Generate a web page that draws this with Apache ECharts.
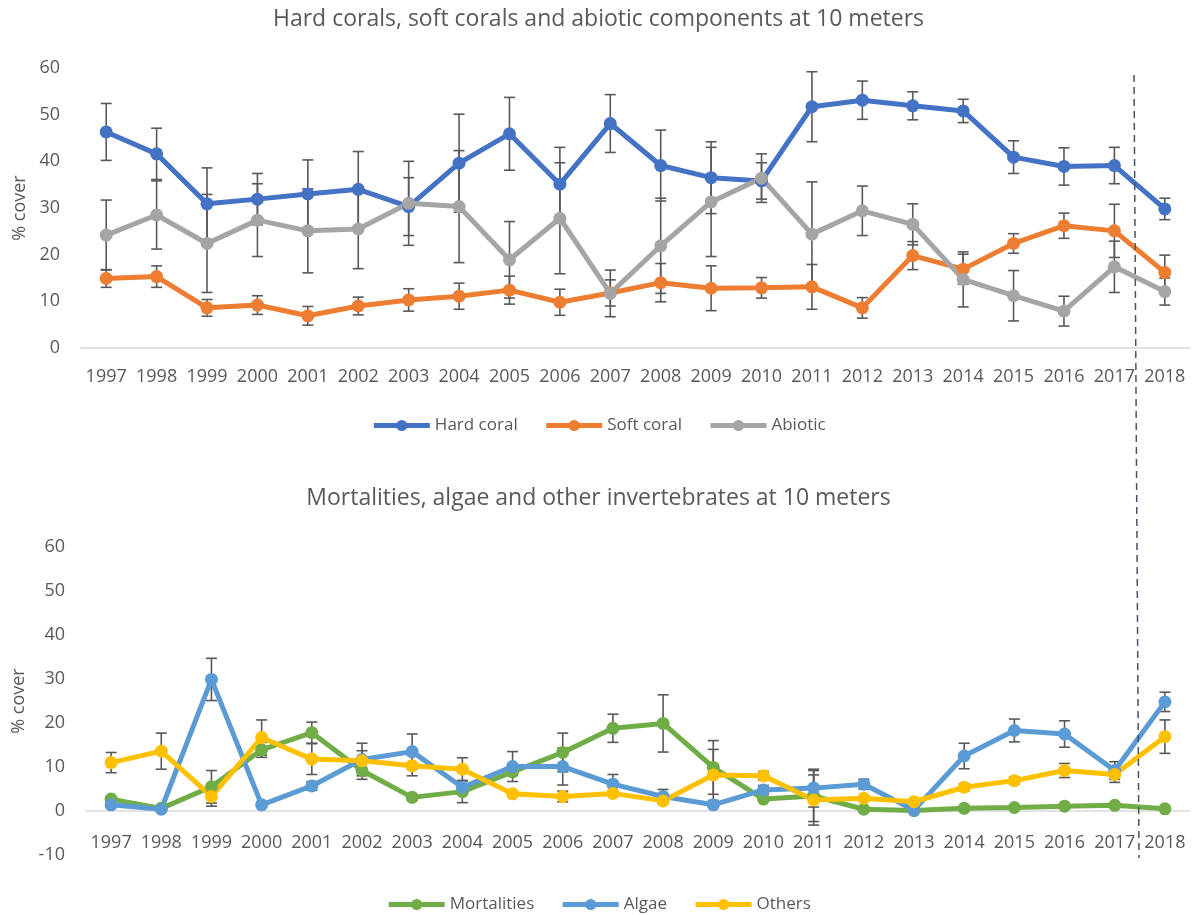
<!DOCTYPE html>
<html>
<head>
<meta charset="utf-8">
<script src="https://cdn.jsdelivr.net/npm/echarts@6/dist/echarts.min.js"></script>
<style>
  html, body { margin: 0; padding: 0; background: #fff; }
  #chart { width: 1197px; height: 915px; }
</style>
</head>
<body>
<div id="chart"></div>
<script>
// Survey years
const years = ['1997','1998','1999','2000','2001','2002','2003','2004','2005','2006','2007',
               '2008','2009','2010','2011','2012','2013','2014','2015','2016','2017','2018'];

// Upper panel: mean % cover and error (+/-)
const hardCoral    = [46.3, 41.6, 30.9, 31.9, 33.0, 34.0, 30.3, 39.6, 45.9, 35.1, 48.1, 39.1, 36.5, 35.8, 51.7, 53.1, 51.9, 50.8, 40.9, 38.9, 39.1, 29.8];
const hardCoralErr = [6.1, 5.5, 7.7, 5.5, 7.3, 8.1, 6.2, 10.5, 7.8, 7.9, 6.2, 7.6, 7.7, 3.9, 7.5, 4.1, 3.0, 2.5, 3.5, 4.0, 3.9, 2.3];
const softCoral    = [14.9, 15.3, 8.6, 9.2, 6.9, 9.0, 10.3, 11.1, 12.4, 9.8, 11.8, 14.0, 12.8, 12.9, 13.1, 8.6, 19.8, 16.9, 22.4, 26.2, 25.1, 16.2];
const softCoralErr = [1.9, 2.3, 1.8, 2.0, 2.0, 1.9, 2.4, 2.8, 3.0, 2.8, 2.8, 4.1, 4.8, 2.2, 4.8, 2.2, 3.0, 3.2, 2.1, 2.7, 5.7, 3.7];
const abiotic      = [24.2, 28.5, 22.4, 27.4, 25.1, 25.5, 31.0, 30.3, 18.9, 27.8, 11.7, 21.9, 31.3, 36.4, 24.4, 29.4, 26.5, 14.7, 11.2, 7.9, 17.4, 12.1];
const abioticErr   = [7.5, 7.3, 10.5, 7.8, 9.0, 8.5, 9.0, 12.0, 8.2, 11.9, 5.0, 10.2, 11.7, 5.2, 11.2, 5.3, 4.4, 5.9, 5.4, 3.2, 5.5, 2.9];

// Lower panel: mean % cover and error (+/-)
const mortalities    = [2.7, 0.6, 5.5, 13.9, 17.8, 9.2, 3.1, 4.4, 8.9, 13.3, 18.8, 19.9, 9.9, 2.7, 3.4, 0.4, 0.1, 0.6, 0.8, 1.1, 1.3, 0.5];
const mortalitiesErr = [0.5, 0.3, 3.7, 1.7, 2.4, 2.0, 0.6, 2.5, 0.8, 4.4, 3.2, 6.5, 6.1, 0.5, 5.8, 0.3, 0.1, 0.2, 0.2, 0.3, 0.3, 0.2];
const algae          = [1.4, 0.4, 29.9, 1.4, 5.7, 11.7, 13.5, 5.4, 10.1, 10.1, 6.1, 3.3, 1.4, 4.8, 5.2, 6.1, 0.2, 12.5, 18.3, 17.5, 9.2, 24.8];
const algaeErr       = [0.5, 0.3, 4.8, 0.6, 1.0, 3.7, 4.0, 1.5, 3.4, 4.2, 2.2, 1.6, 0.6, 1.0, 4.3, 1.1, 0.2, 2.9, 2.6, 3.0, 2.0, 2.2];
const others         = [11.0, 13.6, 3.3, 16.7, 11.8, 11.4, 10.3, 9.5, 3.9, 3.3, 4.0, 2.3, 8.2, 8.0, 2.5, 2.9, 2.1, 5.4, 6.9, 9.2, 8.3, 16.9];
const othersErr      = [2.3, 4.1, 2.2, 4.0, 3.5, 2.3, 2.3, 2.6, 0.6, 1.2, 0.6, 0.5, 5.8, 1.0, 5.7, 0.6, 0.4, 0.8, 0.8, 1.6, 1.8, 3.8];

const FONT = '"Open Sans", sans-serif';
const TEXT = '#595959';

function errData(vals, errs) {
  return vals.map((v, i) => [i, v - errs[i], v + errs[i]]);
}

// vertical error bar with end caps
function renderErr(params, api) {
  const lo = api.coord([api.value(0), api.value(1)]);
  const hi = api.coord([api.value(0), api.value(2)]);
  const w = 5.5;
  const style = { stroke: '#595959', lineWidth: 1.6 };
  return {
    type: 'group',
    children: [
      { type: 'line', shape: { x1: hi[0], y1: hi[1], x2: lo[0], y2: lo[1] }, style },
      { type: 'line', shape: { x1: hi[0] - w, y1: hi[1], x2: hi[0] + w, y2: hi[1] }, style },
      { type: 'line', shape: { x1: lo[0] - w, y1: lo[1], x2: lo[0] + w, y2: lo[1] }, style }
    ]
  };
}

function lineSeries(name, data, color, gi) {
  return {
    name, type: 'line', data, xAxisIndex: gi, yAxisIndex: gi,
    symbol: 'circle', symbolSize: 13,
    lineStyle: { color, width: 5 },
    itemStyle: { color },
    z: 3, animation: false
  };
}

function errSeries(vals, errs, gi) {
  return {
    type: 'custom', renderItem: renderErr, data: errData(vals, errs),
    xAxisIndex: gi, yAxisIndex: gi, encode: { x: 0, y: [1, 2] },
    z: 2, silent: true, animation: false
  };
}

const xAxisBase = (gi, margin) => ({
  type: 'category', data: years, gridIndex: gi, boundaryGap: true,
  axisLine: { onZero: true, lineStyle: { color: '#D9D9D9', width: 1.5 } },
  axisTick: { show: false },
  axisLabel: { color: TEXT, fontFamily: FONT, fontSize: 18, margin, interval: 0 }
});

const yAxisBase = (gi, min) => ({
  type: 'value', gridIndex: gi, min, max: 60, interval: 10,
  name: '% cover', nameLocation: 'middle', nameRotate: 90, nameGap: 50,
  nameTextStyle: { color: TEXT, fontFamily: FONT, fontSize: 18 },
  axisLine: { show: false }, axisTick: { show: false }, splitLine: { show: false },
  axisLabel: { color: TEXT, fontFamily: FONT, fontSize: 18, margin: 21 }
});

const legendBase = {
  left: 'center', itemWidth: 56, itemHeight: 14, itemGap: 26,
  lineStyle: { width: 5 },
  textStyle: { color: TEXT, fontFamily: FONT, fontSize: 17 }
};

const chart = echarts.init(document.getElementById('chart'), null, { renderer: 'canvas' });
chart.setOption({
  backgroundColor: '#ffffff',
  animation: false,
  title: [
    { text: 'Hard corals, soft corals and abiotic components at 10 meters', left: 'center', top: 3,
      textStyle: { color: TEXT, fontFamily: FONT, fontSize: 23, fontWeight: 'normal' } },
    { text: 'Mortalities, algae and other invertebrates at 10 meters', left: 'center', top: 482,
      textStyle: { color: TEXT, fontFamily: FONT, fontSize: 23, fontWeight: 'normal' } }
  ],
  legend: [
    Object.assign({ data: ['Hard coral', 'Soft coral', 'Abiotic'], top: 412 }, legendBase),
    Object.assign({ data: ['Mortalities', 'Algae', 'Others'], top: 891 }, legendBase)
  ],
  grid: [
    { left: 81, right: 7, top: 68, height: 280 },
    { left: 86, right: 7, top: 547, height: 308 }
  ],
  xAxis: [xAxisBase(0, 20), xAxisBase(1, -21)],
  yAxis: [yAxisBase(0, 0), yAxisBase(1, -10)],
  series: [
    errSeries(hardCoral, hardCoralErr, 0),
    errSeries(softCoral, softCoralErr, 0),
    errSeries(abiotic, abioticErr, 0),
    lineSeries('Hard coral', hardCoral, '#4472C4', 0),
    lineSeries('Soft coral', softCoral, '#ED7D31', 0),
    lineSeries('Abiotic', abiotic, '#A5A5A5', 0),
    errSeries(mortalities, mortalitiesErr, 1),
    errSeries(algae, algaeErr, 1),
    errSeries(others, othersErr, 1),
    lineSeries('Mortalities', mortalities, '#70AD47', 1),
    lineSeries('Algae', algae, '#5B9BD5', 1),
    lineSeries('Others', others, '#FFC000', 1)
  ],
  graphic: [
    // dashed divider before the final survey year, spanning both panels
    { type: 'line', z: 10, silent: true,
      shape: { x1: 1134, y1: 75, x2: 1139, y2: 858 },
      style: { stroke: '#44546A', lineWidth: 1.5, lineDash: [7, 5] } }
  ]
});
</script>
</body>
</html>
